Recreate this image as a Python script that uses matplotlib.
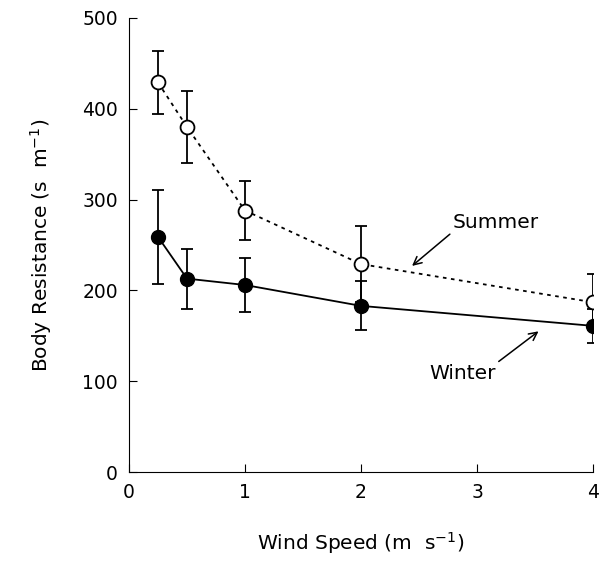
import numpy as np
import matplotlib.pyplot as plt

# valores
wind = [0.25, 0.5, 1, 2, 4]
summer = [429, 380, 288, 229, 187]
summer_err = [35, 40, 33, 42, 31]
winter = [259, 213, 206, 183, 161]
winter_err = [52, 33, 30, 27, 19]

plt.rcParams['font.family'] = ['DejaVu Sans']

fig = plt.figure(figsize=(6.07, 5.62), dpi=100)
ax = fig.add_axes([0.2125, 0.160, 0.7645, 0.808])

ax.errorbar(wind, winter, yerr=winter_err, color='black', lw=1.3,
            marker='o', ms=10, mfc='black', mec='black',
            capsize=4, elinewidth=1.3, capthick=1.3, zorder=3)
ax.errorbar(wind, summer, yerr=summer_err, color='black', lw=1.3, ls=(0, (2, 2.5)),
            marker='o', ms=10, mfc='white', mec='black', mew=1.3,
            capsize=4, elinewidth=1.3, capthick=1.3, zorder=4)

ax.annotate('Summer', xy=(2.44, 227), xytext=(2.79, 275), fontsize=14.5,
            va='center', ha='left',
            arrowprops=dict(arrowstyle='->', color='black', lw=1.1,
                            shrinkA=0, shrinkB=0, relpos=(0, 0)))
ax.annotate('Winter', xy=(3.53, 155), xytext=(2.59, 109), fontsize=14.5,
            va='center', ha='left',
            arrowprops=dict(arrowstyle='->', color='black', lw=1.1,
                            shrinkA=0, shrinkB=0, relpos=(1, 1)))

ax.set_xlim(0, 4)
ax.set_ylim(0, 500)
ax.set_xticks([0, 1, 2, 3, 4])
ax.set_yticks([0, 100, 200, 300, 400, 500])
ax.spines['top'].set_visible(False)
ax.spines['right'].set_visible(False)
ax.tick_params(direction='in', length=6, labelsize=13.5, pad=8)
ax.set_xlabel('Wind Speed (m  s$^{-1}$)', fontsize=14.5, labelpad=20)
ax.set_ylabel('Body Resistance (s  m$^{-1}$)', fontsize=14.5, labelpad=20)

fig.savefig('out.png', dpi=100)
